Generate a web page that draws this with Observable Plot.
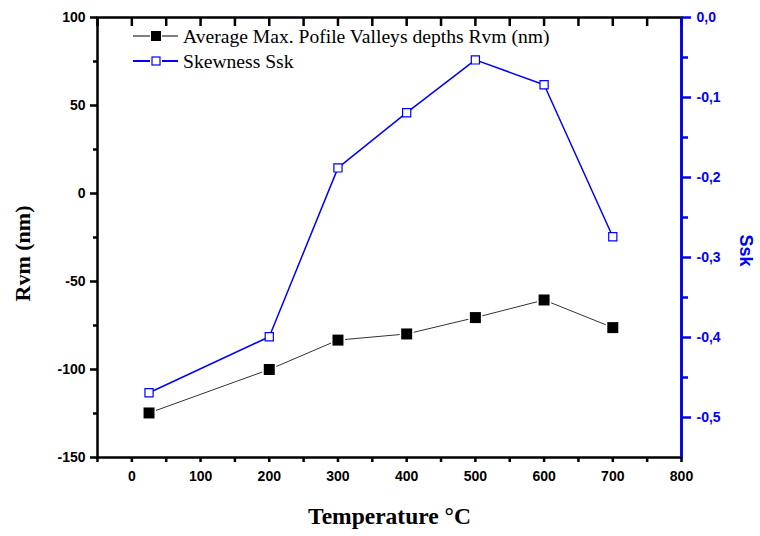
<!DOCTYPE html>
<html>
<head>
<meta charset="utf-8">
<script src="https://cdn.jsdelivr.net/npm/d3@7"></script>
<script src="https://cdn.jsdelivr.net/npm/@observablehq/plot@0.6"></script>
<style>
  html, body { margin: 0; padding: 0; background: #fff; }
  #chart svg { display: block; }
</style>
</head>
<body>
<div id="chart"></div>
<script>
// ---- data ----
const temps = [25, 200, 300, 400, 500, 600, 700];
const rvm = [-124.7, -100, -83.3, -79.8, -70.5, -60.5, -76.2];
const ssk = [-0.469, -0.399, -0.188, -0.119, -0.053, -0.084, -0.274];

const seriesNames = ["Average Max. Pofile Valleys depths Rvm (nm)", "Skewness Ssk"];

const xMajor = [0, 100, 200, 300, 400, 500, 600, 700, 800];
const xMinor = [-50, 50, 150, 250, 350, 450, 550, 650, 750];
const yMajor = [-150, -100, -50, 0, 50, 100];
const yMinor = [-125, -75, -25, 25, 75];
const sskMajor = [-0.5, -0.4, -0.3, -0.2, -0.1, 0.0];
const sskMinor = [-0.45, -0.35, -0.25, -0.15, -0.05];

const xDomain = [-50, 800];
const yDomain = [-150, 100];
const sskDomain = [-0.55, 0];

// map Ssk onto the left (Rvm) scale
const toLeft = s => yDomain[0] + (s - sskDomain[0]) / (sskDomain[1] - sskDomain[0]) * (yDomain[1] - yDomain[0]);
const fromLeft = v => sskDomain[0] + (v - yDomain[0]) / (yDomain[1] - yDomain[0]) * (sskDomain[1] - sskDomain[0]);

const rvmData = temps.map((t, i) => ({t, v: rvm[i]}));
const sskData = temps.map((t, i) => ({t, v: toLeft(ssk[i])}));

const BLUE = "#0000ff";
const SANS = "'Liberation Sans', Arial, sans-serif";
const SERIF = "'Liberation Serif', 'Times New Roman', serif";

const fmtSsk = v => {
  let s = fromLeft(v);
  if (Math.abs(s) < 1e-9) s = 0;
  return s.toFixed(1).replace(".", ",");
};

const chart = Plot.plot({
  width: 760,
  height: 536,
  marginLeft: 97,
  marginRight: 79,
  marginTop: 17,
  marginBottom: 79,
  style: {fontFamily: SANS, background: "#fff"},
  x: {domain: xDomain, axis: null},
  y: {domain: yDomain, axis: null},
  marks: [
    // bottom axis
    Plot.axisX(xMajor, {anchor: "bottom", tickSize: 5, strokeWidth: 2.5, tickPadding: 9, fontSize: 14, tickFormat: d => String(d), label: null, fill: "#000"}),
    Plot.axisX(xMinor, {anchor: "bottom", tickSize: 5, strokeWidth: 2.5, tickFormat: () => "", label: null}),
    // top axis (inward ticks)
    Plot.axisX(xMajor.concat(xMinor), {anchor: "top", tickSize: -8, strokeWidth: 2.5, tickFormat: () => "", label: null}),
    // left axis
    Plot.axisY(yMajor, {anchor: "left", tickSize: 7, strokeWidth: 2.5, tickPadding: 5, fontSize: 14, tickFormat: d => String(d), label: null, fill: "#000"}),
    Plot.axisY(yMinor, {anchor: "left", tickSize: 4, strokeWidth: 2.5, tickFormat: () => "", label: null}),
    // right axis (Ssk)
    Plot.axisY(sskMajor.map(toLeft), {anchor: "right", tickSize: 9, strokeWidth: 2.5, tickPadding: 6, fontSize: 14, tickFormat: fmtSsk, label: null, stroke: BLUE, fill: BLUE, color: BLUE}),
    Plot.axisY(sskMinor.map(toLeft), {anchor: "right", tickSize: 6, strokeWidth: 2.5, tickFormat: () => "", label: null, stroke: BLUE, color: BLUE}),
    // frame
    Plot.frame({stroke: "#000", strokeWidth: 2.5}),
    Plot.ruleX([xDomain[1]], {stroke: BLUE, strokeWidth: 2.5}),
    // series
    Plot.line(rvmData, {x: "t", y: "v", stroke: "#333", strokeWidth: 1}),
    Plot.line(sskData, {x: "t", y: "v", stroke: BLUE, strokeWidth: 1.5}),
    Plot.dot(rvmData, {x: "t", y: "v", symbol: "square", r: 6.2, fill: "#000", stroke: "#fff", strokeWidth: 3, paintOrder: "stroke"}),
    Plot.dot(sskData, {x: "t", y: "v", symbol: "square", r: 4.6, fill: "#fff", stroke: BLUE, strokeWidth: 1.2}),
    // axis titles
    Plot.text(["Temperature °C"], {frameAnchor: "bottom", dy: 66, textAnchor: "middle", fontSize: 23.5, fontFamily: SERIF, fill: "#000"}),
    Plot.text(["Rvm (nm)"], {frameAnchor: "left", dx: -75, dy: 16, textAnchor: "middle", rotate: -90, fontSize: 22, fontFamily: SERIF, fill: "#000"}),
    Plot.text(["Ssk"], {frameAnchor: "right", dx: 64, dy: 13, textAnchor: "middle", rotate: 90, fontSize: 18, fontFamily: SANS, fill: BLUE})
  ]
});

document.getElementById("chart").appendChild(chart);

const svg = d3.select(chart);
// all axis labels and titles are bold
svg.selectAll("text").style("font-weight", "bold");

// legend inside the plot area
const leg = svg.append("g").attr("transform", "translate(133,36)");
const legStyles = [
  {stroke: "#000", sw: 1, fill: "#000", mstroke: "none", size: 10},
  {stroke: BLUE, sw: 2, fill: "#fff", mstroke: BLUE, size: 8}
];
seriesNames.forEach((name, i) => {
  const st = legStyles[i];
  const g = leg.append("g").attr("transform", `translate(0,${i * 25})`);
  g.append("line").attr("x1", 0).attr("x2", 17).attr("y1", 0).attr("y2", 0).attr("stroke", st.stroke).attr("stroke-width", st.sw);
  g.append("line").attr("x1", 29).attr("x2", 45).attr("y1", 0).attr("y2", 0).attr("stroke", st.stroke).attr("stroke-width", st.sw);
  g.append("rect").attr("x", 23 - st.size / 2).attr("y", -st.size / 2).attr("width", st.size).attr("height", st.size)
    .attr("fill", st.fill).attr("stroke", st.mstroke).attr("stroke-width", 1.2);
  g.append("text").attr("x", 50).attr("y", 0).attr("dy", "0.35em")
    .attr("text-anchor", "start").style("font-weight", "normal")
    .attr("font-family", SERIF).attr("font-size", 19.6).attr("fill", "#000").text(name);
});
</script>
</body>
</html>
